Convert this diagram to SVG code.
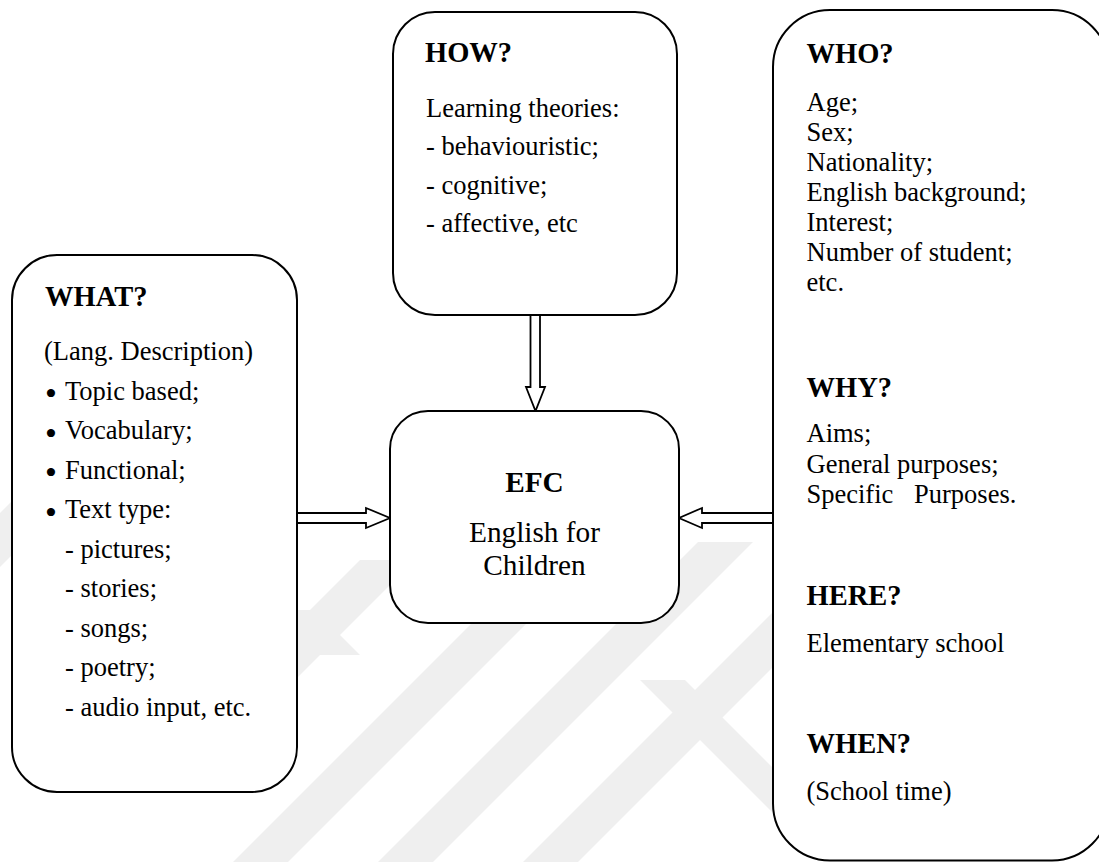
<svg xmlns="http://www.w3.org/2000/svg" width="1099" height="862" viewBox="0 0 1099 862">
<style>
.box{fill:#fff;stroke:#000;stroke-width:2}
.arr{fill:#fff;stroke:#000;stroke-width:1.8;stroke-linejoin:miter}
.wm{fill:#efefef}
text{font-family:"Liberation Serif","Times New Roman",serif;fill:#000}
.h{font-size:28.5px;font-weight:bold}
.b{font-size:26.5px}
.c{font-size:29.3px;text-anchor:middle}
.bul{font-size:34px}
</style>
<rect width="1099" height="862" fill="#fff"/>
<g id="watermark">
<polygon class="wm" points="0,513 30,483 30,537 0,567"/>
<polygon class="wm" points="220,700 275,700 415,560 360,560"/>
<polygon class="wm" points="233,862 288,862 550,600 495,600"/>
<polygon class="wm" points="378,862 433,862 753,542 698,542"/>
<polygon class="wm" points="523,862 578,862 800,640 800,585"/>
<polygon class="wm" points="640,680 685,680 800,795 800,840"/>
<polygon class="wm" points="270,610 315,610 360,655 315,655"/>
</g>
<g id="connectors">
<path class="arr" d="M297,513 H366 V508 L390,518 L366,528 V523 H297"/>
<path class="arr" d="M530.5,315 V387 H526 L535.5,411 L545,387 H540 V315"/>
<path class="arr" d="M773,513 H702 V508 L679,518 L702,528 V523 H773"/>
</g>
<g id="how">
<rect class="box" x="393" y="12" width="284" height="303" rx="42"/>
<text class="h" x="425" y="62">HOW?</text>
<text class="b" x="426" y="116.5">Learning theories:</text>
<text class="b" x="426" y="155">- behaviouristic;</text>
<text class="b" x="426" y="193.5">- cognitive;</text>
<text class="b" x="426" y="232">- affective, etc</text>
</g>
<g id="what">
<rect class="box" x="12" y="255" width="285" height="537" rx="45"/>
<text class="h" x="45" y="306">WHAT?</text>
<text class="b" x="44" y="359.5">(Lang. Description)</text>
<text class="b" x="45" y="399.5"><tspan class="bul" dy="5.5">•</tspan><tspan x="65" dy="-5.5">Topic based;</tspan></text>
<text class="b" x="45" y="439"><tspan class="bul" dy="5.5">•</tspan><tspan x="65" dy="-5.5">Vocabulary;</tspan></text>
<text class="b" x="45" y="478.5"><tspan class="bul" dy="5.5">•</tspan><tspan x="65" dy="-5.5">Functional;</tspan></text>
<text class="b" x="45" y="518"><tspan class="bul" dy="5.5">•</tspan><tspan x="65" dy="-5.5">Text type:</tspan></text>
<text class="b" x="65" y="557.5">- pictures;</text>
<text class="b" x="65" y="597">- stories;</text>
<text class="b" x="65" y="636.5">- songs;</text>
<text class="b" x="65" y="676">- poetry;</text>
<text class="b" x="65" y="715.5">- audio input, etc.</text>
</g>
<g id="efc">
<rect class="box" x="390" y="411" width="289" height="212" rx="38"/>
<text class="c" x="534.5" y="491.5" font-weight="bold">EFC</text>
<text class="c" x="534.5" y="541.5">English for</text>
<text class="c" x="534.5" y="575">Children</text>
</g>
<g id="who">
<rect class="box" x="773" y="10" width="336" height="850.5" rx="57"/>
<text class="h" x="806.5" y="63">WHO?</text>
<text class="b" x="806.5" y="110.5">Age;</text>
<text class="b" x="806.5" y="140.5">Sex;</text>
<text class="b" x="806.5" y="170.5">Nationality;</text>
<text class="b" x="806.5" y="200.5">English background;</text>
<text class="b" x="806.5" y="230.5">Interest;</text>
<text class="b" x="806.5" y="260.5">Number of student;</text>
<text class="b" x="806.5" y="290.5">etc.</text>
<text class="h" x="806.5" y="396.5">WHY?</text>
<text class="b" x="806.5" y="442">Aims;</text>
<text class="b" x="806.5" y="472.5">General purposes;</text>
<text class="b" x="806.5" y="503">Specific<tspan x="914">Purposes.</tspan></text>
<text class="h" x="806.5" y="605">HERE?</text>
<text class="b" x="806.5" y="651.5">Elementary school</text>
<text class="h" x="806.5" y="753">WHEN?</text>
<text class="b" x="806.5" y="800">(School time)</text>
</g>
</svg>
